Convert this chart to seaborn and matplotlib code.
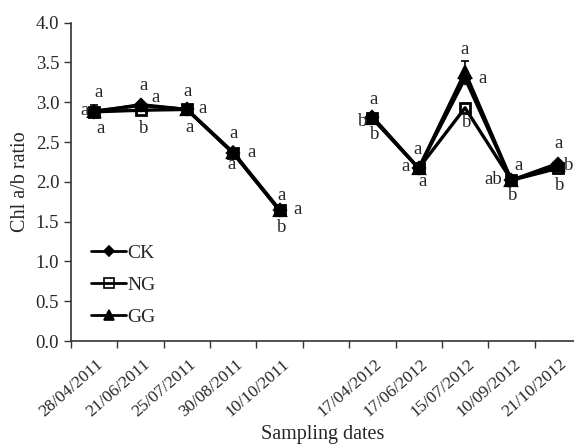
import numpy as np
import pandas as pd
import matplotlib
matplotlib.use("Agg")
import matplotlib.pyplot as plt
import matplotlib.transforms as mtransforms
from matplotlib.lines import Line2D
import seaborn as sns

# ---- data ----
dates = ["28/04/2011", "21/06/2011", "25/07/2011", "30/08/2011", "10/10/2011", "",
         "17/04/2012", "17/06/2012", "15/07/2012", "10/09/2012", "21/10/2012"]
series = ["CK", "NG", "GG"]
ck = [2.88, 2.97, 2.91, 2.36, 1.64, np.nan, 2.82, 2.17, 3.30, 2.02, 2.23]
ng = [2.88, 2.90, 2.91, 2.36, 1.64, np.nan, 2.80, 2.17, 2.93, 2.02, 2.17]
gg = [2.89, 2.96, 2.91, 2.37, 1.65, np.nan, 2.80, 2.17, 3.38, 2.02, 2.21]
gg_err = [0.07, 0.03, 0.02, 0.03, 0.03, np.nan, 0.03, 0.02, 0.14, 0.03, 0.03]
yticks = [0.0, 0.5, 1.0, 1.5, 2.0, 2.5, 3.0, 3.5, 4.0]

# significance letters: (date index, anchor series, letter)
sig_idx = [0, 0, 0, 1, 1, 1, 2, 2, 2, 3, 3, 3, 4, 4, 4,
           6, 6, 6, 7, 7, 7, 8, 8, 8, 9, 9, 9, 10, 10, 10]
sig_series = ["CK"] * 23 + ["NG"] + ["CK"] * 6
sig_letter = ["a", "a", "a", "a", "a", "b", "a", "a", "a", "a", "a", "a", "a", "a", "b",
              "a", "b", "b", "a", "a", "a", "a", "a", "b", "a", "ab", "b", "a", "b", "b"]
# pixel offsets of letters relative to their anchor point (layout only)
sig_off = [(4, 19), (-10, 1), (6, -17), (3, 19), (15, 7), (3, -24), (1, 18), (16, 1), (3, -18),
           (0, 20), (18, 1), (-2, -11), (2, 15), (18, 1), (2, -17),
           (1, 17), (-10, -5), (2, -18), (-1, 19), (-13, 2), (4, -13),
           (0, 29), (18, 0), (2, -15), (7, 15), (-18, 1), (1, -15), (1, 20), (2, -22), (11, -2)]

# ---- build long table ----
period = [0, 0, 0, 0, 0, -1, 1, 1, 1, 1, 1]
rows = []
for name, vals in zip(series, [ck, ng, gg]):
    for i, v in enumerate(vals):
        if not np.isnan(v):
            rows.append({"idx": i, "val": v, "series": name, "period": period[i]})
df = pd.DataFrame(rows)
vals_map = {"CK": ck, "NG": ng, "GG": gg}

sns.set_style("ticks")
plt.rcParams["font.family"] = ["Liberation Serif", "DejaVu Serif"]

fig = plt.figure(figsize=(5.74, 4.47), dpi=100)
ax = fig.add_axes([71 / 574, 106 / 447, 1 - 71 / 574, (424.3 - 106) / 447])

markers = {"CK": "D", "NG": "s", "GG": "^"}
msize = {"CK": 6.5, "NG": 7.5, "GG": 8}
face = {"CK": "black", "NG": "none", "GG": "black"}
mew = {"CK": 1.6, "NG": 2.0, "GG": 1.6}
order = ["NG", "CK", "GG"]

for p in [0, 1]:
    for name in order:
        sub = df[(df.period == p) & (df.series == name)]
        sns.lineplot(data=sub, x="idx", y="val", ax=ax, color="black", lw=2.4,
                     marker=markers[name], markersize=msize[name],
                     markerfacecolor=face[name], markeredgecolor="black",
                     markeredgewidth=mew[name], legend=False,
                     zorder=3 if name != "NG" else 2)

# error bars for GG
xi = np.arange(len(dates))
ax.errorbar(xi, gg, yerr=gg_err, fmt="none", ecolor="black", elinewidth=1.2,
            capsize=3, capthick=1.2, zorder=4)

# letters
for i, s, l, (dx, dy) in zip(sig_idx, sig_series, sig_letter, sig_off):
    ax.annotate(l, (i, vals_map[s][i]), xytext=(dx, dy), textcoords="offset pixels",
                ha="center", va="center", fontsize=13.5, annotation_clip=False, clip_on=False)

# axes
ax.set_xlim(-0.5, 10.35)
ax.set_ylim(0, 4)
ax.set_yticks(yticks)
ax.set_yticklabels([f"{t:.1f}" for t in yticks], fontsize=13.5)
ax.set_xticks(np.arange(-0.5, 10.5, 1.0))
ax.set_xticklabels([])
ax.set_xticks(xi, minor=True)
ax.set_xticklabels(dates, minor=True, fontsize=12.5, rotation=41, ha="right",
                   rotation_mode="anchor", va="top")
ax.tick_params(axis="x", which="minor", length=0, pad=11)
ax.tick_params(axis="both", which="major", length=5, width=1.0, color="#333333")
offset = mtransforms.ScaledTranslation(2 / 100, 0, fig.dpi_scale_trans)
for lab in ax.get_xticklabels(minor=True):
    lab.set_transform(lab.get_transform() + offset)
for sp in ["top", "right"]:
    ax.spines[sp].set_visible(False)
for sp in ["left", "bottom"]:
    ax.spines[sp].set_color("#333333")
    ax.spines[sp].set_linewidth(1.2)
ax.set_xlabel("Sampling dates", fontsize=14.5, labelpad=3)
ax.set_ylabel("Chl a/b ratio", fontsize=14.5, labelpad=4)
ax.grid(False)

handles = [Line2D([], [], color="black", lw=2, marker=markers[n], markersize=msize[n] - 1,
                  markerfacecolor=face[n], markeredgecolor="black", markeredgewidth=1.2)
           for n in series]
ax.legend(handles, series, loc="center left", bbox_to_anchor=(0.025, 0.176), frameon=False,
          fontsize=14, handlelength=1.8, handletextpad=0.05, labelspacing=0.75,
          borderaxespad=0)

fig.savefig("out.png", dpi=100)
